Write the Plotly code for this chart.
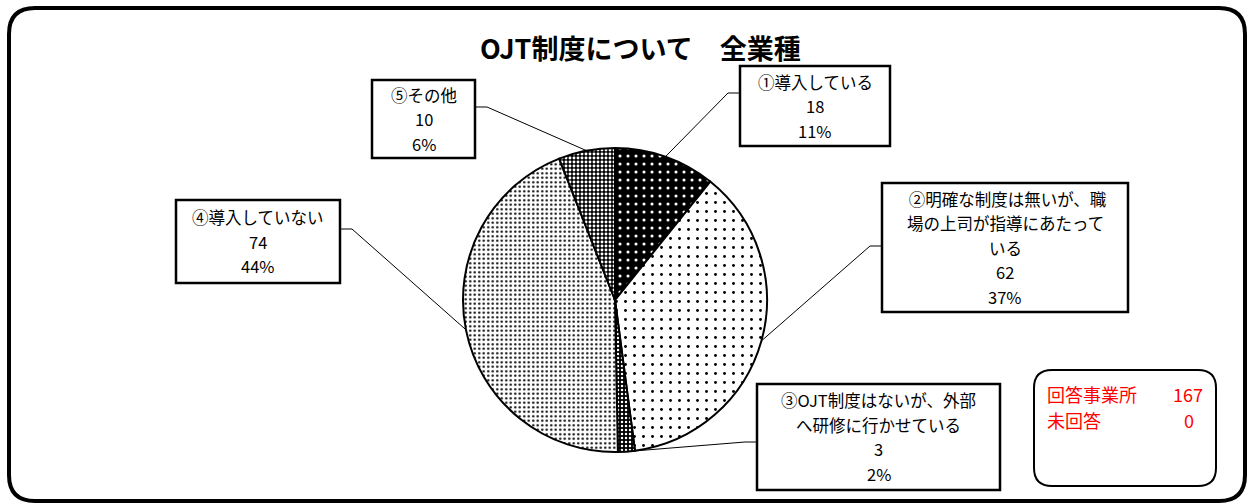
import math
import plotly.graph_objects as go

# data
categories = [
	'①導入している',
	'②明確な制度は無いが、職場の上司が指導にあたっている',
	'③OJT制度はないが、外部へ研修に行かせている',
	'④導入していない',
	'⑤その他',
]
counts = [18, 62, 3, 74, 10]
percents = ['11%', '37%', '2%', '44%', '6%']
# the label text as wrapped in the boxes
box_lines = [
	['①導入している'],
	[' ②明確な制度は無いが、職', '場の上司が指導にあたって', 'いる'],
	['③OJT制度はないが、外部', 'へ研修に行かせている'],
	['④導入していない'],
	['⑤その他'],
]
answered = 167
unanswered = 0
title = 'OJT制度について　全業種'

W, H = 1248, 504
font_jp = 'Noto Sans CJK JP'

# pie geometry (pixels)
cx, cy, R = 615, 300, 152

# label boxes: x0, y0, x1, y1 and leader start (x, y, direction)
boxes = [
	(740, 66, 890, 146),
	(882, 183, 1128, 312),
	(757, 384, 1000, 490),
	(176, 200, 340, 283),
	(372, 80, 475, 158),
]
leader_start = [
	(740, 93, -1),
	(882, 246, -1),
	(757, 442, -1),
	(340, 229, 1),
	(475, 107, 1),
]
line_gap = 24.5

patterns = [
	dict(shape='.', bg='black', fg='white', size=8, solidity=0.12),
	dict(shape='.', bg='white', fg='black', size=9, solidity=0.08),
	dict(shape='.', bg='black', fg='white', size=4, solidity=0.3),
	dict(shape='.', bg='white', fg='black', size=4.5, solidity=0.22),
	dict(shape='.', bg='black', fg='white', size=4, solidity=0.42),
]


def rounded_rect(x0, y0, x1, y1, r):
	return (
		f'M {x0 + r},{y0} L {x1 - r},{y0} Q {x1},{y0} {x1},{y0 + r} '
		f'L {x1},{y1 - r} Q {x1},{y1} {x1 - r},{y1} '
		f'L {x0 + r},{y1} Q {x0},{y1} {x0},{y1 - r} '
		f'L {x0},{y0 + r} Q {x0},{y0} {x0 + r},{y0} Z'
	)


fig = go.Figure()

fig.add_trace(go.Pie(
	labels=categories,
	values=counts,
	sort=False,
	direction='clockwise',
	rotation=0,
	textinfo='none',
	hoverinfo='label+value+percent',
	showlegend=False,
	domain=dict(
		x=[(cx - R) / W, (cx + R) / W],
		y=[1 - (cy + R) / H, 1 - (cy - R) / H],
	),
	marker=dict(
		colors=[p['bg'] for p in patterns],
		line=dict(color='black', width=2),
		pattern=dict(
			shape=[p['shape'] for p in patterns],
			fgcolor=[p['fg'] for p in patterns],
			bgcolor=[p['bg'] for p in patterns],
			size=[p['size'] for p in patterns],
			solidity=[p['solidity'] for p in patterns],
		),
	),
))

shapes = []
annotations = []

# outer frame
shapes.append(dict(
	type='path', xref='x', yref='y',
	path=rounded_rect(9, 8, 1245, 501, 26),
	line=dict(color='black', width=4),
	layer='below',
))

# leader lines, from the middle angle of each slice
total = sum(counts)
cum = 0
for i, v in enumerate(counts):
	mid = (cum + v / 2) / total * 2 * math.pi
	cum += v
	px = cx + R * math.sin(mid)
	py = cy - R * math.cos(mid)
	sx, sy, d = leader_start[i]
	shapes.append(dict(
		type='path', xref='x', yref='y',
		path=f'M {sx},{sy} L {sx + d * 12},{sy} L {px:.1f},{py:.1f}',
		line=dict(color='black', width=1),
	))

# label boxes, one annotation per text line
for i, (x0, y0, x1, y1) in enumerate(boxes):
	shapes.append(dict(
		type='rect', xref='x', yref='y',
		x0=x0, y0=y0, x1=x1, y1=y1,
		fillcolor='white',
		line=dict(color='black', width=2.5),
	))
	lines = box_lines[i] + [str(counts[i]), percents[i]]
	top = (y0 + y1) / 2 - line_gap * (len(lines) - 1) / 2
	for j, txt in enumerate(lines):
		annotations.append(dict(
			xref='x', yref='y',
			x=(x0 + x1) / 2, y=top + j * line_gap,
			text=txt, showarrow=False,
			xanchor='center', yanchor='middle',
			font=dict(family=font_jp, size=16.5, color='black'),
		))

# answered box
shapes.append(dict(
	type='path', xref='x', yref='y',
	path=rounded_rect(1034, 370, 1216, 486, 18),
	line=dict(color='black', width=2),
))
red = dict(family=font_jp, size=18, color='red')
for label, val, y in [('回答事業所', answered, 394), ('未回答', unanswered, 420)]:
	annotations.append(dict(
		xref='x', yref='y', x=1045, y=y, text=label, showarrow=False,
		xanchor='left', yanchor='middle', font=red,
	))
	annotations.append(dict(
		xref='x', yref='y', x=1205 if val == answered else 1196, y=y,
		text=str(val), showarrow=False,
		xanchor='right', yanchor='middle', font=red,
	))

# title
annotations.append(dict(
	xref='x', yref='y', x=640, y=47,
	text=f'<b>{title}</b>', showarrow=False,
	xanchor='center', yanchor='middle',
	font=dict(family=font_jp, size=27, color='black'),
))

fig.update_layout(
	width=W, height=H,
	margin=dict(l=0, r=0, t=0, b=0),
	paper_bgcolor='white',
	plot_bgcolor='rgba(0,0,0,0)',
	xaxis=dict(range=[0, W], visible=False, fixedrange=True),
	yaxis=dict(range=[H, 0], visible=False, fixedrange=True),
	shapes=shapes,
	annotations=annotations,
	showlegend=False,
)

# drop the default page margin so the figure sits at the window's corner
fig.write_html(
	'out.html',
	config={'displayModeBar': False},
	post_script="document.body.style.margin='0';",
)
